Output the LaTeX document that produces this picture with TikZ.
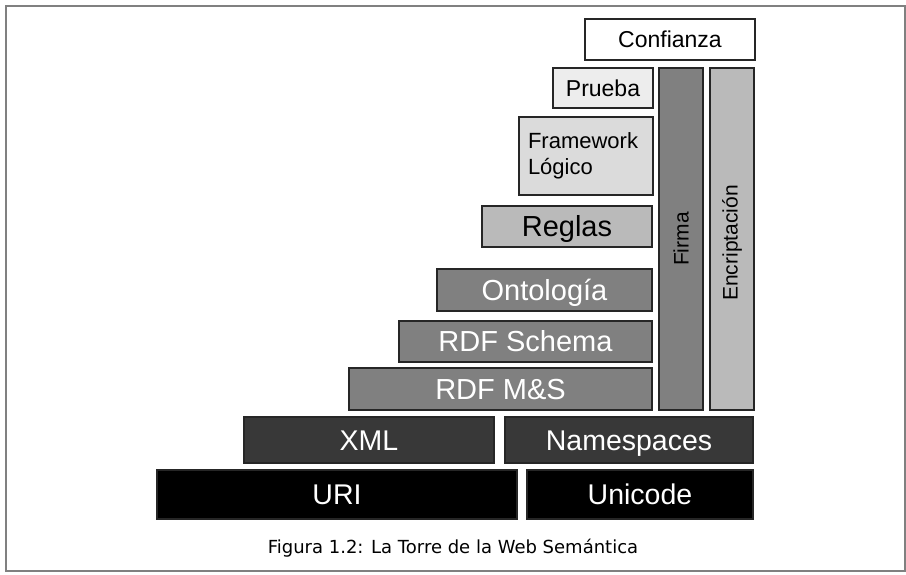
\documentclass[tikz,border=0pt]{standalone}
\usepackage{fontspec}
\setmainfont{Liberation Sans}
\newfontfamily\capfont{DejaVu Sans}
\usepackage{tikz}
\usepackage{xcolor}

\definecolor{capa0}{gray}{0.0}
\definecolor{capa1}{gray}{0.22}
\definecolor{capa2}{gray}{0.5}
\definecolor{capa3}{gray}{0.73}
\definecolor{capa4}{gray}{0.86}
\definecolor{capa5}{gray}{0.93}

\begin{document}
\begin{tikzpicture} [x=1pt, y=-1pt,
		capa/.style={draw=black!85, line width=1.1pt, rectangle, inner sep=0pt},
		grande/.style={font=\fontsize{28.5}{30}\selectfont, text height=20.5pt, text depth=0pt},
		media/.style={font=\fontsize{29}{30}\selectfont, text height=20.8pt, text depth=0pt},
		chica/.style={font=\fontsize{22}{26}\selectfont}]
		\useasboundingbox (0, 0) rectangle (906, 574);
		\draw [gray, line width=1.6pt] (6, 6) rectangle (905, 571);
		% base
		\node [capa, grande, fill=capa0, text=white, minimum width=360pt, minimum height=49pt] (uri) at (337, 494.5) {URI};
		\node [capa, grande, fill=capa0, text=white, minimum width=226pt, minimum height=49pt] (unicode) at (640, 494.5) {Unicode};
		\node [capa, grande, fill=capa1, text=white, minimum width=250pt, minimum height=46pt] (xml) at (369, 440) {XML};
		\node [capa, grande, fill=capa1, text=white, minimum width=248pt, minimum height=46pt] (ns) at (629, 440) {Namespaces};
		% capas de RDF
		\node [capa, media, fill=capa2, text=white, minimum width=303pt, minimum height=42pt] (rdfms) at (500.5, 389) {RDF M\&S};
		\node [capa, media, fill=capa2, text=white, minimum width=253pt, minimum height=41pt] (rdfs) at (525.5, 341.5) {RDF Schema};
		\node [capa, media, fill=capa2, text=white, minimum width=215pt, minimum height=42pt] (onto) at (544.5, 290) {Ontolog\'ia};
		\node [capa, media, fill=capa3, minimum width=170pt, minimum height=41pt] (reglas) at (567, 226.5) {Reglas};
		% capas superiores
		\node [capa, chica, fill=capa4, minimum width=134pt, minimum height=78pt, text width=116pt, align=left] (logica) at (586, 156) {Framework\\L\'ogico};
		\node [capa, chica, font=\fontsize{23}{26}\selectfont, fill=capa5, minimum width=100pt, minimum height=40pt] (prueba) at (603, 88) {Prueba};
		\node [capa, chica, font=\fontsize{23}{26}\selectfont, fill=white, minimum width=170pt, minimum height=41pt] (confianza) at (670, 39.5) {Confianza};
		% columnas
		\node [capa, fill=capa2, minimum width=44pt, minimum height=342pt] (firma) at (681, 239) {};
		\node [chica, font=\fontsize{21}{26}\selectfont, rotate=90] (firmatxt) at (firma.center) {Firma};
		\node [capa, fill=capa3, minimum width=44pt, minimum height=342pt] (encrip) at (732, 239) {};
		\node [chica, font=\fontsize{21}{26}\selectfont, rotate=90] (enctxt) at ([yshift=-4pt]encrip.center) {Encriptaci\'on};
		% pie
		\node [font=\capfont\fontsize{18}{20}\selectfont] (pie) at (453, 548) {Figura 1.2: La Torre de la Web Sem\'antica};
	\end{tikzpicture}
\end{document}
